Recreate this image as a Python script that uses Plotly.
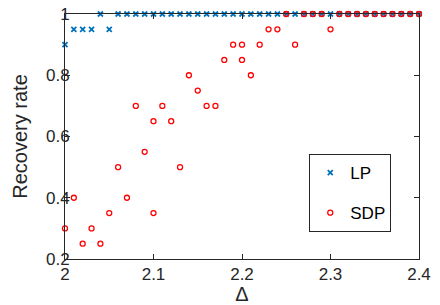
import plotly.graph_objects as go

# LP recovery rates
lp_x = [2.00, 2.01, 2.02, 2.03, 2.04, 2.05, 2.06, 2.07, 2.08, 2.09, 2.10,
        2.11, 2.12, 2.13, 2.14, 2.15, 2.16, 2.17, 2.18, 2.19, 2.20,
        2.21, 2.22, 2.23, 2.24, 2.25, 2.26, 2.27, 2.28, 2.29, 2.30,
        2.31, 2.32, 2.33, 2.34, 2.35, 2.36, 2.37, 2.38, 2.39, 2.40]
lp_y = [0.90, 0.95, 0.95, 0.95, 1.00, 0.95, 1.00, 1.00, 1.00, 1.00, 1.00,
        1.00, 1.00, 1.00, 1.00, 1.00, 1.00, 1.00, 1.00, 1.00, 1.00,
        1.00, 1.00, 1.00, 1.00, 1.00, 1.00, 1.00, 1.00, 1.00, 1.00,
        1.00, 1.00, 1.00, 1.00, 1.00, 1.00, 1.00, 1.00, 1.00, 1.00]

# SDP recovery rates
sdp_x = [2.00, 2.01, 2.02, 2.03, 2.04, 2.05, 2.06, 2.07, 2.08, 2.09, 2.10, 2.10,
         2.11, 2.12, 2.13, 2.14, 2.15, 2.16, 2.17, 2.18, 2.19, 2.20, 2.20,
         2.21, 2.22, 2.23, 2.24, 2.25, 2.26, 2.27, 2.28, 2.29, 2.30,
         2.31, 2.32, 2.33, 2.34, 2.35, 2.36, 2.37, 2.38, 2.39, 2.40]
sdp_y = [0.30, 0.40, 0.25, 0.30, 0.25, 0.35, 0.50, 0.40, 0.70, 0.55, 0.65, 0.35,
         0.70, 0.65, 0.50, 0.80, 0.75, 0.70, 0.70, 0.85, 0.90, 0.90, 0.85,
         0.80, 0.90, 0.95, 0.95, 1.00, 0.90, 1.00, 1.00, 1.00, 0.95,
         1.00, 1.00, 1.00, 1.00, 1.00, 1.00, 1.00, 1.00, 1.00, 1.00]

x_ticks = [2.0, 2.1, 2.2, 2.3, 2.4]
x_ticklabels = ["2", "2.1", "2.2", "2.3", "2.4"]
y_ticks = [0.2, 0.4, 0.6, 0.8, 1.0]
y_ticklabels = ["0.2", "0.4", "0.6", "0.8", "1"]

FONT = "Liberation Sans, Arial, Helvetica, sans-serif"
AXC = "#262626"

fig = go.Figure()
fig.add_trace(go.Scatter(
    x=lp_x, y=lp_y, mode="markers", name="LP", legendgroup="a",
    marker=dict(symbol="x-thin", size=5, line=dict(color="#0072BD", width=1.8),
                color="#0072BD"),
    cliponaxis=False,
))
fig.add_trace(go.Scatter(
    x=sdp_x, y=sdp_y, mode="markers", name="SDP", legendgroup="b",
    marker=dict(symbol="circle-open", size=5, line=dict(color="#FF0000", width=1.3),
                color="#FF0000"),
    cliponaxis=False,
))

axis_common = dict(
    showline=True, linecolor=AXC, linewidth=1, mirror="ticks",
    ticks="inside", ticklen=5, tickwidth=1, tickcolor=AXC,
    showgrid=False, zeroline=False, automargin=False,
    tickfont=dict(family=FONT, size=17, color=AXC),
)

fig.update_layout(
    width=440, height=305,
    margin=dict(l=65, r=21, t=14, b=46),
    paper_bgcolor="white", plot_bgcolor="white",
    font=dict(family=FONT, color=AXC),
    xaxis=dict(range=[2.0, 2.4], tickvals=x_ticks, ticktext=x_ticklabels,
               title=dict(text="Δ", font=dict(family=FONT, size=20, color=AXC), standoff=6),
               **axis_common),
    yaxis=dict(range=[0.2, 1.0], tickvals=y_ticks, ticktext=y_ticklabels,
               ticklabelstandoff=-9,
               title=dict(text="Recovery rate", font=dict(family=FONT, size=20, color=AXC), standoff=12),
               **axis_common),
    legend=dict(x=0.69, y=0.4286, xanchor="left", yanchor="top",
                bgcolor="white", bordercolor=AXC, borderwidth=1,
                font=dict(family=FONT, size=17, color="black"),
                traceorder="grouped", tracegroupgap=15, itemwidth=30),
    showlegend=True,
)

fig.write_html("out.html", config={"displayModeBar": False},
               post_script="document.body.style.margin='0px';")
